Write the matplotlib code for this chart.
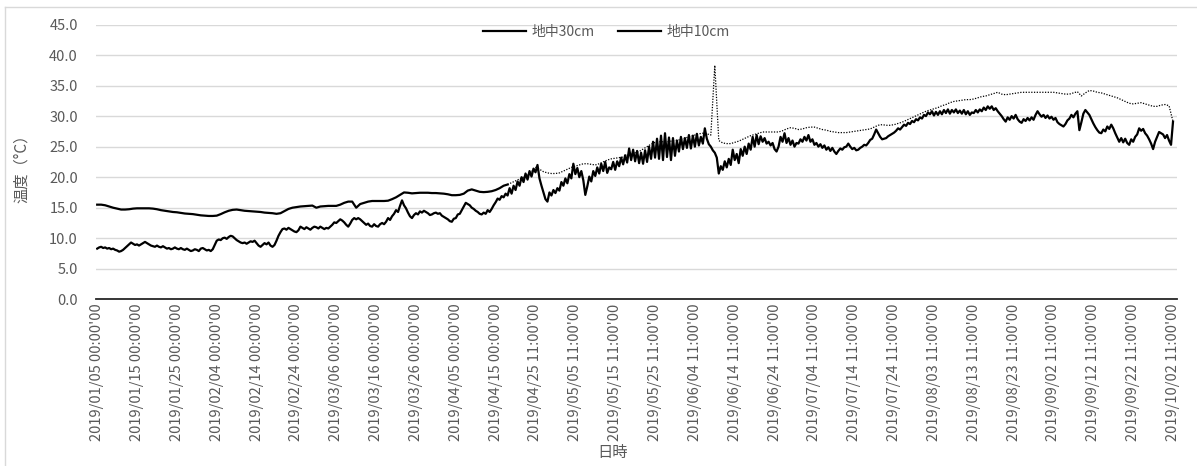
import numpy as np
import matplotlib
matplotlib.use("Agg")
import matplotlib.pyplot as plt
from matplotlib.lines import Line2D

plt.rcParams['font.family'] = ['Noto Sans CJK JP', 'DejaVu Sans']

C_TEXT = "#595959"
C_GRID = "#d9d9d9"

# x tick labels, one every 10 days from 2019/01/05
tick_labels = [
    "2019/01/05 00:00'00", "2019/01/15 00:00'00", "2019/01/25 00:00'00",
    "2019/02/04 00:00'00", "2019/02/14 00:00'00", "2019/02/24 00:00'00",
    "2019/03/06 00:00'00", "2019/03/16 00:00'00", "2019/03/26 00:00'00",
    "2019/04/05 00:00'00", "2019/04/15 00:00'00", "2019/04/25 11:00'00",
    "2019/05/05 11:00'00", "2019/05/15 11:00'00", "2019/05/25 11:00'00",
    "2019/06/04 11:00'00", "2019/06/14 11:00'00", "2019/06/24 11:00'00",
    "2019/07/04 11:00'00", "2019/07/14 11:00'00", "2019/07/24 11:00'00",
    "2019/08/03 11:00'00", "2019/08/13 11:00'00", "2019/08/23 11:00'00",
    "2019/09/02 11:00'00", "2019/09/12 11:00'00", "2019/09/22 11:00'00",
    "2019/10/02 11:00'00",
]
tick_step = 10

# 地中30cm, one value per day
depth30 = [
    15.5, 15.5, 15.4, 15.2, 15.0, 14.85, 14.7, 14.7, 14.75, 14.85,
    14.9, 14.9, 14.9, 14.9, 14.85, 14.75, 14.6, 14.5, 14.4, 14.3,
    14.25, 14.15, 14.05, 14.0, 13.95, 13.85, 13.75, 13.7, 13.65, 13.65,
    13.7, 13.95, 14.25, 14.5, 14.65, 14.7, 14.6, 14.5, 14.45, 14.4,
    14.35, 14.3, 14.2, 14.15, 14.1, 14.0, 14.1, 14.45, 14.8, 15.0,
    15.1, 15.2, 15.25, 15.3, 15.35, 15.0, 15.2, 15.25, 15.3, 15.3,
    15.3, 15.5, 15.8, 16.0, 16.0, 15.0, 15.6, 15.8, 16.0, 16.1,
    16.1, 16.1, 16.1, 16.15, 16.4, 16.7, 17.1, 17.5, 17.45, 17.35,
    17.4, 17.45, 17.45, 17.45, 17.4, 17.4, 17.35, 17.3, 17.2, 17.05,
    17.05, 17.1, 17.3, 17.8, 18.0, 17.8, 17.6, 17.55, 17.6, 17.7,
    17.9, 18.2, 18.6, 18.8, 19.1, 19.4, 19.7, 20.0, 20.3, 20.9,
    21.6, 21.3, 20.9, 20.7, 20.6, 20.6, 20.7, 21.0, 21.3, 21.6,
    21.8, 22.0, 22.2, 22.2, 22.1, 22.0, 22.2, 22.5, 22.8, 23.0,
    23.1, 23.2, 23.3, 23.6, 23.8, 24.0, 24.2, 24.6, 25.0, 25.4,
    25.7, 25.8, 25.8, 25.8, 25.9, 26.0, 26.1, 26.3, 26.5, 26.7,
    26.9, 27.1, 27.2, 27.1, 26.9, 38.3, 26.0, 25.6, 25.5, 25.5,
    25.7, 25.9, 26.2, 26.5, 26.8, 27.0, 27.2, 27.4, 27.4, 27.4,
    27.4, 27.4, 27.6, 27.9, 28.1, 28.0, 27.8, 27.9, 28.1, 28.2,
    28.2, 28.0, 27.8, 27.7, 27.5, 27.4, 27.3, 27.3, 27.3, 27.4,
    27.5, 27.6, 27.7, 27.8, 27.9, 28.2, 28.5, 28.6, 28.5, 28.5,
    28.6, 28.8, 29.0, 29.3, 29.6, 29.9, 30.2, 30.5, 30.8, 31.0,
    31.2, 31.4, 31.7, 31.9, 32.2, 32.4, 32.5, 32.6, 32.7, 32.7,
    32.8, 33.0, 33.2, 33.3, 33.5, 33.7, 33.9, 33.6, 33.5, 33.6,
    33.7, 33.8, 33.9, 33.9, 33.9, 33.9, 33.9, 33.9, 33.9, 33.9,
    33.9, 33.8, 33.7, 33.6, 33.6, 33.8, 34.0, 33.3, 33.8, 34.2,
    34.1, 33.9, 33.8, 33.6, 33.4, 33.2, 33.0, 32.7, 32.4, 32.1,
    32.0, 32.1, 32.2, 32.0, 31.8, 31.6, 31.6, 31.8, 31.9, 31.7,
    29.1,
]
# the 30cm record is drawn solid up to this day, dotted after
solid_until = 103

# 地中10cm, two values per day
depth10 = [
    8.3, 8.5, 8.6, 8.4, 8.5, 8.3, 8.4, 8.2, 8.3, 8.1,
    8.0, 7.8, 7.9, 8.1, 8.4, 8.7, 9.0, 9.3, 9.1, 8.9,
    9.0, 8.8, 9.0, 9.2, 9.4, 9.2, 9.0, 8.8, 8.7, 8.6,
    8.8, 8.6, 8.5, 8.7, 8.5, 8.3, 8.4, 8.2, 8.3, 8.5,
    8.3, 8.2, 8.4, 8.2, 8.1, 8.3, 8.1, 7.9, 8.0, 8.2,
    8.1, 7.9, 8.3, 8.4, 8.2, 8.0, 8.1, 7.9, 8.2, 8.9,
    9.6, 9.8, 9.7, 10.0, 10.1, 9.9, 10.2, 10.4, 10.3, 10.0,
    9.7, 9.5, 9.3, 9.2, 9.3, 9.1, 9.3, 9.5, 9.4, 9.6,
    9.2, 8.8, 8.6, 8.9, 9.2, 9.0, 9.3, 8.8, 8.6, 8.9,
    9.6, 10.4, 11.0, 11.5, 11.6, 11.4, 11.7, 11.5, 11.3, 11.1,
    11.0, 11.3, 11.9, 11.7, 11.5, 11.8, 11.6, 11.4, 11.7, 11.9,
    11.8, 11.6, 11.9, 11.7, 11.5, 11.7, 11.6, 11.9, 12.2, 12.6,
    12.5, 12.8, 13.1, 12.9, 12.6, 12.2, 11.9, 12.4, 13.0, 13.3,
    13.1, 13.3, 13.1, 12.8, 12.5, 12.2, 12.4, 12.0, 11.9, 12.3,
    12.0, 11.9, 12.3, 12.5, 12.3, 12.7, 13.3, 13.0, 13.6, 14.0,
    14.6, 14.3, 15.3, 16.2, 15.4, 14.9, 14.2, 13.6, 13.3, 13.8,
    14.1, 13.9, 14.4, 14.2, 14.5, 14.3, 14.1, 13.8, 13.9, 14.1,
    14.2, 14.0, 14.1, 13.7, 13.5, 13.3, 13.1, 12.8, 12.7, 13.2,
    13.3, 13.9, 14.0, 14.6, 15.2, 15.8, 15.6, 15.4, 15.0, 14.8,
    14.5, 14.3, 14.0, 13.9, 14.2, 14.0, 14.6, 14.3, 14.8, 15.4,
    15.9, 16.5, 16.3, 16.9, 16.7, 17.3, 17.0, 18.2, 17.3, 18.6,
    17.9, 19.3, 18.6, 20.0, 19.2, 20.6, 19.6, 21.0, 20.1, 21.4,
    20.8, 22.0, 19.8, 18.6, 17.5, 16.4, 16.0, 17.5, 17.0, 17.9,
    17.4, 18.2, 17.8, 19.2, 18.6, 19.8, 19.0, 20.5, 19.8, 22.2,
    20.5, 21.5, 20.0, 21.0, 19.5, 17.1, 18.5, 20.1, 19.3, 21.0,
    20.2, 21.6, 20.6, 22.2, 21.0, 22.5, 20.7, 21.6, 21.3, 22.5,
    21.2, 22.6, 21.8, 23.2, 22.1, 23.6, 22.4, 24.7, 22.8, 24.5,
    22.6, 24.3, 22.3, 24.0, 22.2, 24.4, 22.5, 25.0, 23.0, 25.8,
    23.2, 26.3, 23.0, 26.8, 22.8, 27.2, 23.3, 26.5, 22.8, 26.4,
    23.5, 26.0, 24.2, 26.6, 24.6, 26.4, 24.8, 26.9, 24.7, 26.8,
    25.0, 27.1, 25.2, 26.6, 25.5, 28.0, 26.3, 25.4, 25.0, 24.4,
    24.0, 23.2, 20.6, 21.8, 21.2, 22.6, 21.6, 23.0, 22.0, 24.5,
    22.8, 23.8, 22.3, 24.6, 23.5, 25.0, 23.8, 25.5, 24.5, 26.6,
    25.0, 26.9, 25.4, 26.7, 25.8, 26.4, 25.5, 25.8, 25.2, 25.6,
    24.6, 24.2, 25.0, 26.6, 25.8, 27.2, 25.6, 26.4, 25.3, 26.0,
    25.0, 25.6, 25.5, 26.2, 25.8, 26.6, 26.0, 26.9, 25.8, 26.2,
    25.3, 25.6, 25.0, 25.4, 24.8, 25.2, 24.5, 24.9, 24.3, 24.8,
    24.2, 23.8, 24.3, 24.7, 24.5, 24.9, 25.0, 25.5, 25.0, 24.6,
    24.8, 24.4, 24.5, 24.8, 25.0, 25.3, 25.2, 25.6, 26.1, 26.3,
    27.0, 27.8, 27.2, 26.6, 26.2, 26.3, 26.4, 26.7, 26.9, 27.1,
    27.3, 27.6, 28.0, 27.8, 28.2, 28.6, 28.4, 28.9, 28.7, 29.2,
    29.0, 29.5, 29.3, 29.8, 29.6, 30.2, 30.0, 30.6, 30.3, 30.8,
    30.1, 30.7, 30.2, 30.8, 30.3, 31.0, 30.5, 31.1, 30.4, 31.0,
    30.6, 31.1, 30.5, 30.9, 30.4, 31.0, 30.3, 30.8, 30.2, 30.6,
    30.5, 31.0, 30.6, 31.1, 30.8, 31.4, 31.0, 31.6, 31.2, 31.6,
    31.0, 31.3, 30.8, 30.4, 30.0, 29.5, 29.1, 29.8, 29.4, 30.0,
    29.6, 30.2, 29.5, 29.1, 28.9, 29.5, 29.2, 29.7, 29.3, 29.8,
    29.4, 30.2, 30.8, 30.3, 29.9, 30.2, 29.7, 30.1, 29.6, 29.9,
    29.4, 29.7, 29.0, 28.7, 28.5, 28.3, 28.7, 29.3, 29.6, 30.2,
    29.8, 30.4, 30.8, 27.7, 29.0, 30.4, 31.0, 30.6, 30.2, 29.5,
    28.8, 28.2, 27.7, 27.3, 27.2, 27.8, 27.5, 28.3, 27.9, 28.6,
    28.0, 27.2, 26.5, 25.8, 26.4, 25.7, 26.3, 25.6, 25.3, 26.2,
    25.8, 26.6, 27.0, 28.0, 27.6, 27.9, 27.2, 26.8, 26.2, 25.5,
    24.6, 25.8, 26.6, 27.4, 27.2, 27.0, 26.4, 26.9, 26.0, 25.3,
    29.1,
]

x30 = np.arange(len(depth30))
x10 = np.arange(len(depth10)) / 2.0
y30 = np.array(depth30)
y10 = np.array(depth10)

fig = plt.figure(figsize=(11.97, 4.66), dpi=100, facecolor="white")
ax = fig.add_axes([0.0802, 0.3577, 0.9031, 0.5897])

# 30cm: solid part, then the thin dotted part
ax.plot(x30[:solid_until + 1], y30[:solid_until + 1], color="black", lw=1.6,
        solid_joinstyle="round", zorder=3)
ax.plot(x30[solid_until:], y30[solid_until:], color="black", lw=0.9,
        linestyle=(0, (1, 1.2)), zorder=2)
ax.plot(x10, y10, color="black", lw=1.6, solid_joinstyle="round", zorder=4)

ax.set_ylim(0, 45)
ax.set_xlim(-0.3, 271)
ax.set_yticks(np.arange(0, 46, 5))
ax.set_yticklabels([f"{v:.1f}" for v in np.arange(0, 46, 5)])
ax.set_xticks(np.arange(len(tick_labels)) * tick_step)
ax.set_xticklabels(tick_labels, rotation=90)
ax.grid(axis="y", color=C_GRID, lw=1.0)
ax.set_axisbelow(True)

for s in ["top", "right", "left"]:
    ax.spines[s].set_visible(False)
ax.spines["bottom"].set_color("#262626")
ax.spines["bottom"].set_linewidth(1.3)
ax.spines["bottom"].set_zorder(5)
ax.tick_params(length=0, colors=C_TEXT)
ax.tick_params(axis="x", pad=3, labelsize=10.5)
ax.tick_params(axis="y", pad=13, labelsize=10.5)

ax.set_ylabel("温度（°C）", color=C_TEXT, fontsize=11)
ax.set_xlabel("日時", color=C_TEXT, fontsize=11)
# label positions in axes fraction, from the reference layout
ax.yaxis.set_label_coords(-0.061, 0.49)
ax.xaxis.set_label_coords(0.478, -0.525)

handles = [Line2D([], [], color="black", lw=1.6),
           Line2D([], [], color="black", lw=1.6)]
leg = ax.legend(handles, ["地中30cm", "地中10cm"], ncol=2, loc="center",
                bbox_to_anchor=(0.472, 0.974), frameon=False, fontsize=10,
                handlelength=3.1, handletextpad=0.4, columnspacing=1.7,
                labelcolor=C_TEXT)

# chart frame (visible on left and top only)
fig.add_artist(Line2D([5 / 1197, 5 / 1197], [0, 1 - 6.5 / 466],
                      transform=fig.transFigure, color=C_GRID, lw=1.0))
fig.add_artist(Line2D([5 / 1197, 1], [1 - 6.5 / 466, 1 - 6.5 / 466],
                      transform=fig.transFigure, color=C_GRID, lw=1.0))

fig.savefig("out.png", dpi=100, facecolor="white")
